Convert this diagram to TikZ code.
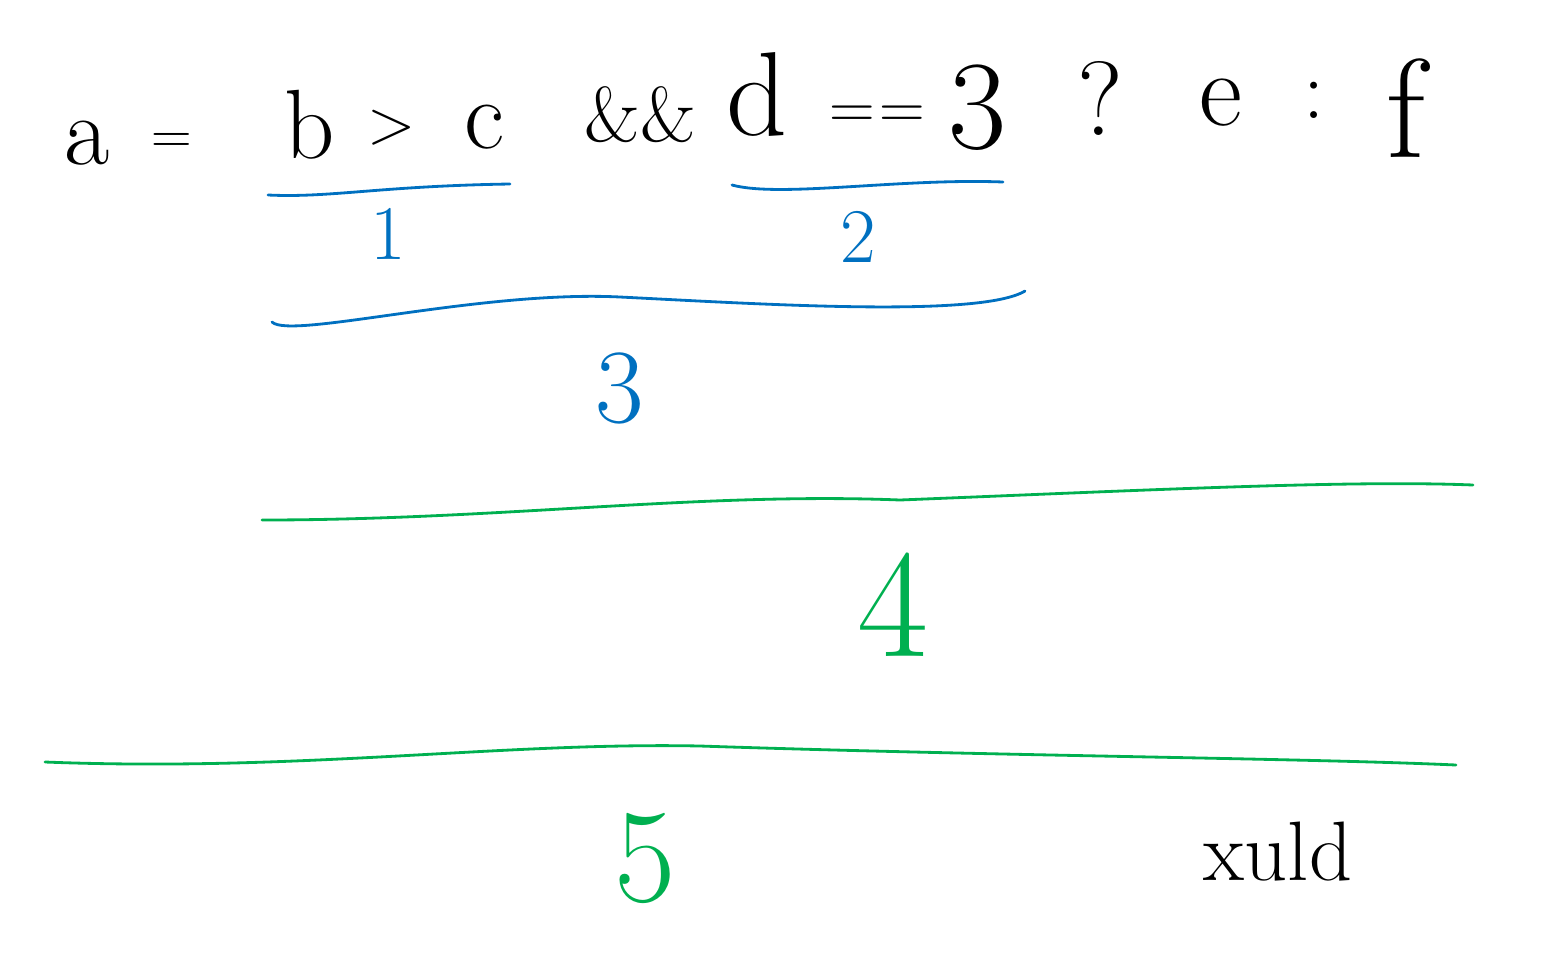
\documentclass[tikz,border=0pt]{standalone}
\usepackage{tikz}
\usetikzlibrary{positioning}
\definecolor{inkblue}{RGB}{0,112,192}
\definecolor{inkgreen}{RGB}{0,176,80}
\tikzset{tok/.style={font=\fontsize{#1}{#1}\selectfont,inner sep=0pt},
         tok/.default=28pt,
         ul/.style={line width=0.8pt,line cap=round}}

\begin{document}
\begin{tikzpicture}[x=0.01cm,y=-0.01cm]
    \useasboundingbox (0,0) rectangle (1557,978);

    \node[tok] (a) at (87,143) {a};
    \node[tok=16pt] (eq) at (172,143) {=};
    \node[tok] (b) at (310,125) {b};
    \node[tok=18pt] (gt) at (392,128) {>};
    \node[tok] (c) at (484,127) {c};
    \node[tok=22pt] (and) at (640,115) {\&\&};
    \node[tok=34pt] (d) at (757,94) {d};
    \node[tok=18pt] (eqa) at (852,117) {=};
    \node[tok=18pt] (eqb) at (902,117) {=};
    \node[tok=36pt] (three) at (978,108) {3};
    \node[tok=30pt] (q) at (1100,98) {?};
    \node[tok=30pt] (e) at (1221,103) {e};
    \node[tok=24pt] (colon) at (1314,100) {:};
    \node[tok=40pt] (f) at (1406,108) {f};

    \coordinate (u1a) at (268,195);
    \coordinate (u1b) at (510,184);
    \coordinate (u2a) at (732,185);
    \coordinate (u2b) at (1003,182);
    \coordinate (u3a) at (272,322);
    \coordinate (u3b) at (1025,291);
    \coordinate (u4a) at (262,520);
    \coordinate (u4b) at (1473,485);
    \coordinate (u5a) at (45,762);
    \coordinate (u5b) at (1456,765);

    \node[tok=22pt,text=inkblue] (one) at (388,234) {1};
    \node[tok=22pt,text=inkblue] (two) at (858,237) {2};
    \node[tok=30pt,text=inkblue] (thr) at (620,388) {3};
    \node[tok=44pt,text=inkgreen] (four) at (893,605) {4};
    \node[tok=38pt,text=inkgreen] (five) at (645,858) {5};
    \node[tok=24pt] (xuld) at (1278,852) {xuld};

    \draw [ul,inkblue] (u1a) .. controls (330,198) and (380,186) .. (u1b);
    \draw [ul,inkblue] (u2a) .. controls (780,198) and (900,178) .. (u2b);
    \draw [ul,inkblue] (u3a) .. controls (290,340) and (480,290) .. (620,297)
                             .. controls (760,304) and (980,318) .. (u3b);
    \draw [ul,inkgreen] (u4a) .. controls (500,520) and (700,492) .. (900,500)
                              .. controls (1150,490) and (1350,480) .. (u4b);
    \draw [ul,inkgreen] (u5a) .. controls (300,772) and (500,742) .. (700,746)
                              .. controls (1000,756) and (1300,758) .. (u5b);
\end{tikzpicture}
\end{document}
